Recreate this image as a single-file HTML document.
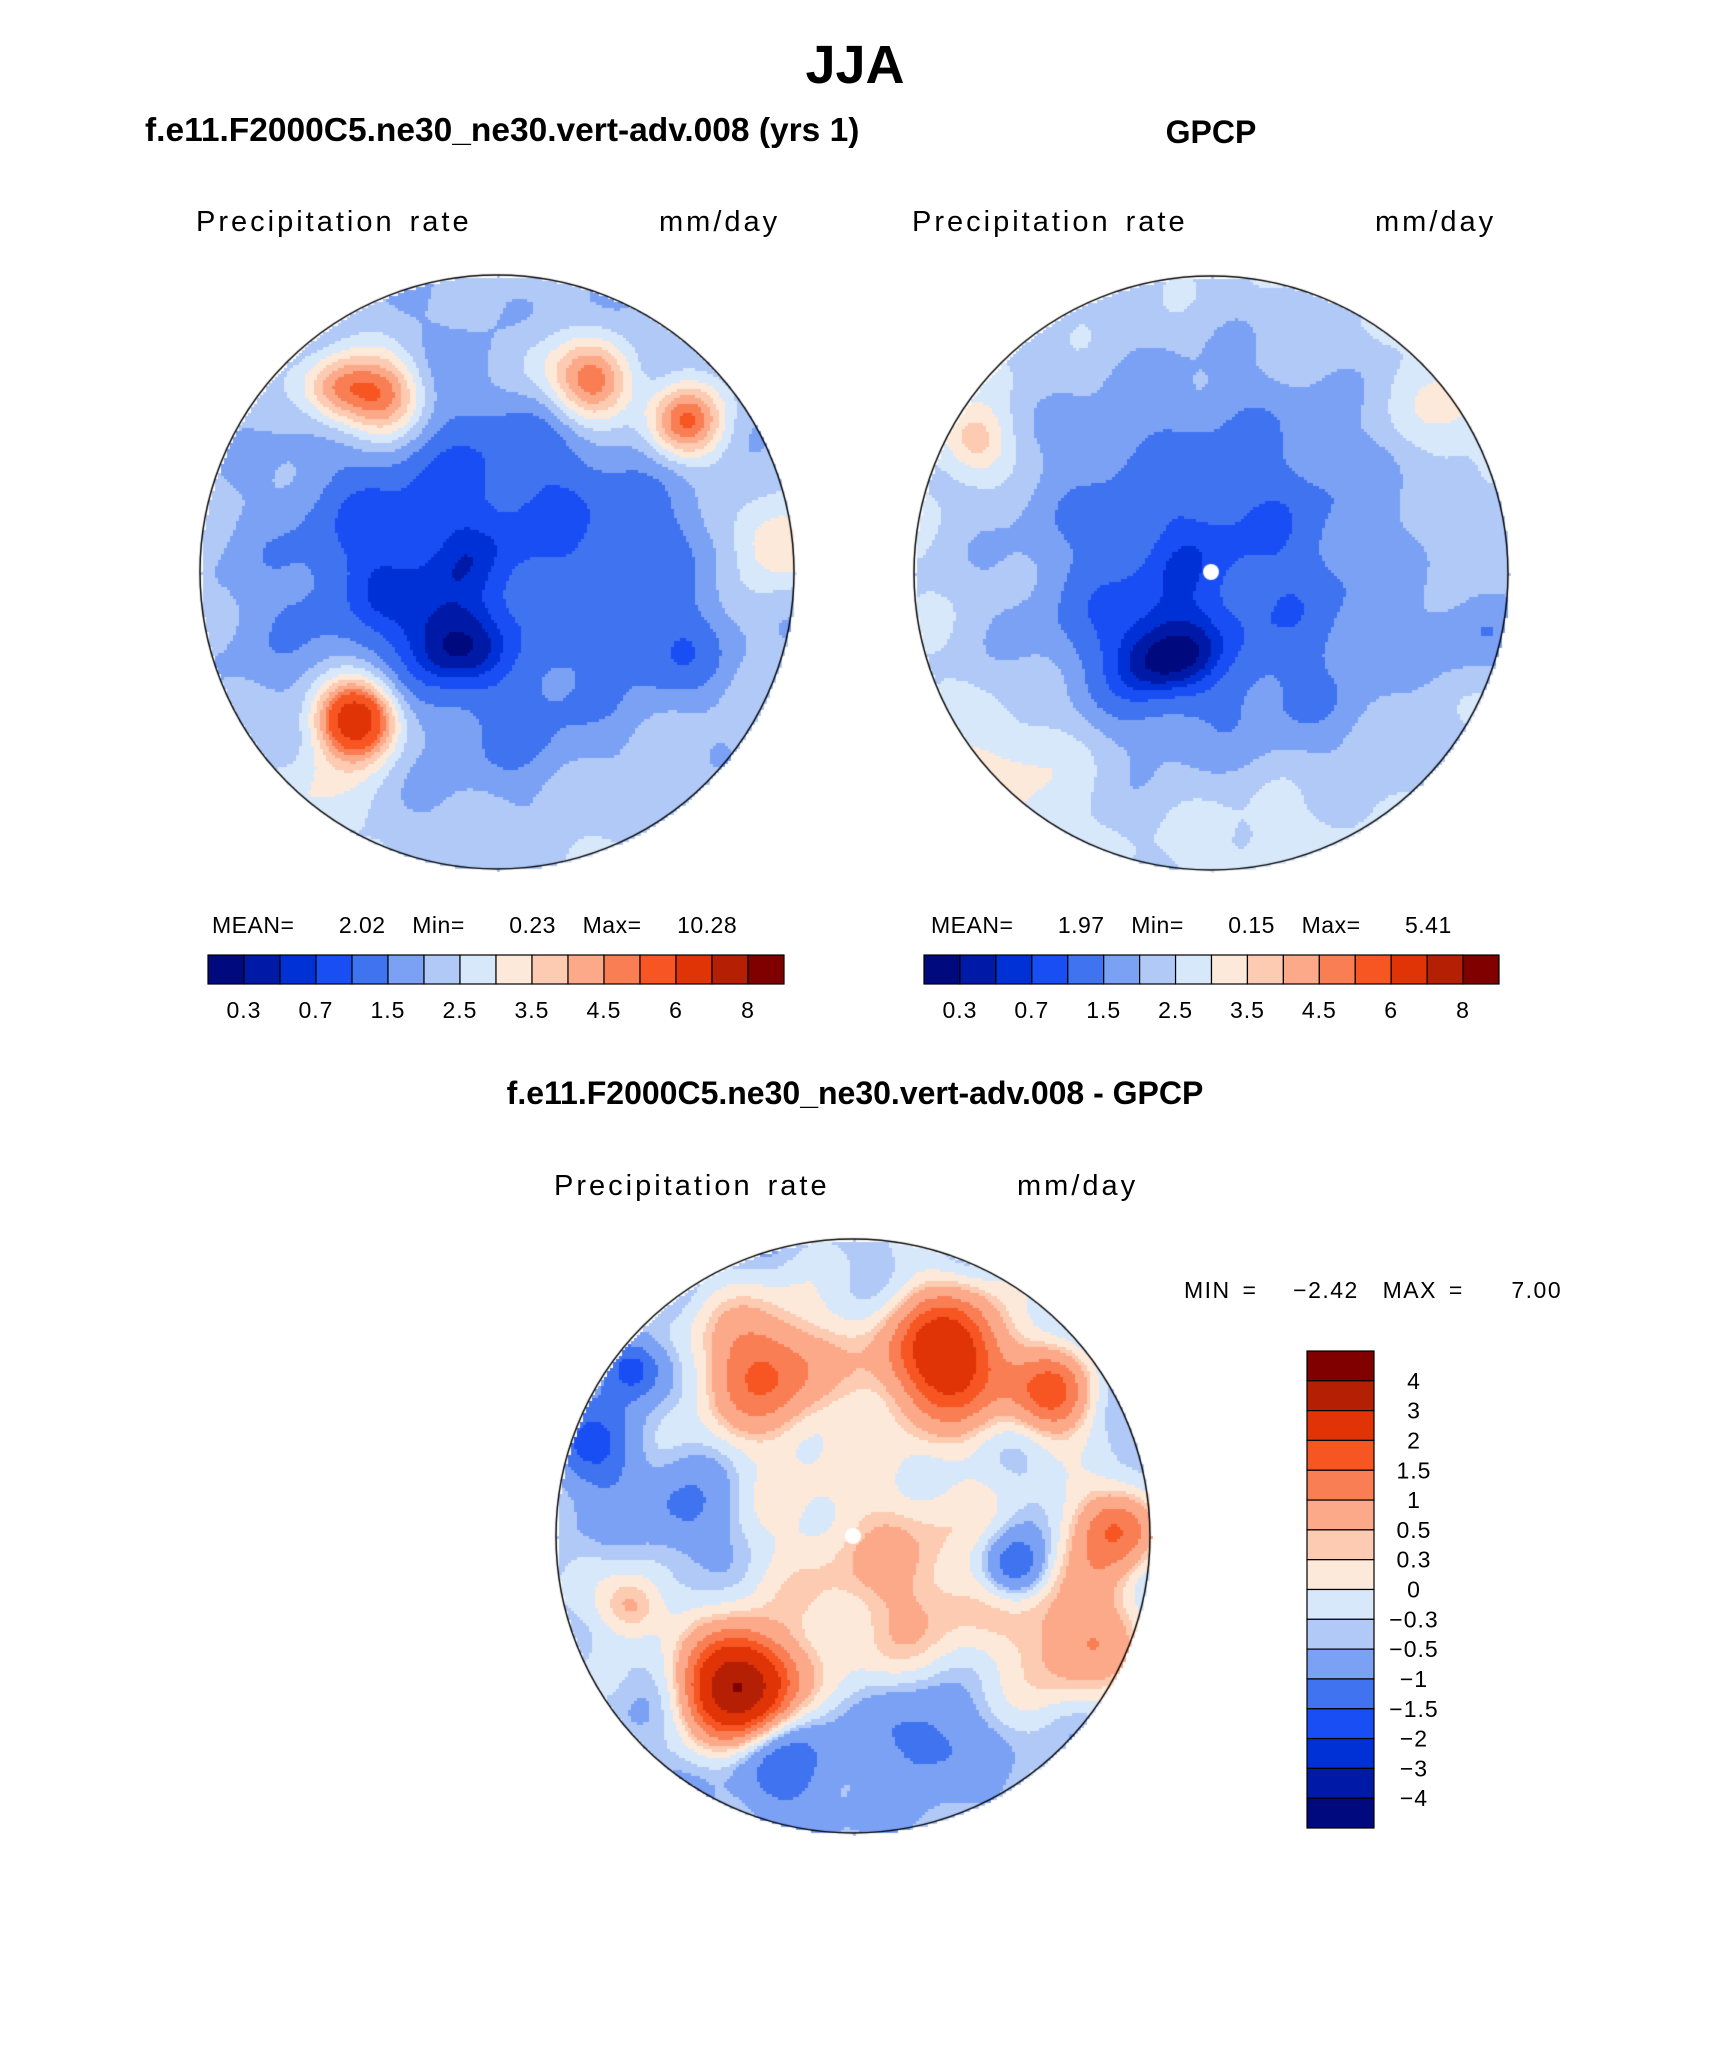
<!DOCTYPE html>
<html><head><meta charset="utf-8"><style>
body{margin:0;background:#fff;width:1710px;height:2061px;position:relative;overflow:hidden;font-family:"Liberation Sans",sans-serif}
.t{position:absolute;white-space:nowrap;color:#000}
.b{font-weight:bold}
.lbl{font-size:29px;letter-spacing:3px;word-spacing:4px}
.sm{font-size:23px}
canvas{position:absolute}
</style></head><body>
<div class="t b" style="left:0;width:1710px;text-align:center;top:34px;font-size:54px">JJA</div>
<div class="t b" style="left:145px;top:111px;font-size:33px;transform:scaleX(1.015);transform-origin:left">f.e11.F2000C5.ne30_ne30.vert-adv.008 (yrs 1)</div>
<div class="t b" style="left:1111px;width:200px;text-align:center;top:114px;font-size:32px">GPCP</div>
<div class="t lbl" style="left:196px;top:206px">Precipitation rate</div>
<div class="t lbl" style="left:659px;top:206px">mm/day</div>
<div class="t lbl" style="left:912px;top:206px">Precipitation rate</div>
<div class="t lbl" style="left:1375px;top:206px">mm/day</div>
<div class="t b" style="left:0;width:1710px;text-align:center;top:1075px;font-size:32px">f.e11.F2000C5.ne30_ne30.vert-adv.008 - GPCP</div>
<div class="t lbl" style="left:554px;top:1170px">Precipitation rate</div>
<div class="t lbl" style="left:1017px;top:1170px">mm/day</div>

<div class="t sm" style="left:212px;top:912px;letter-spacing:0.5px;word-spacing:2px">MEAN=&nbsp;&nbsp;&nbsp;&nbsp;&nbsp;2.02&nbsp;&nbsp;&nbsp;Min=&nbsp;&nbsp;&nbsp;&nbsp;&nbsp;0.23&nbsp;&nbsp;&nbsp;Max=&nbsp;&nbsp;&nbsp;&nbsp;10.28</div>
<div class="t sm" style="left:931px;top:912px;letter-spacing:0.5px;word-spacing:2px">MEAN=&nbsp;&nbsp;&nbsp;&nbsp;&nbsp;1.97&nbsp;&nbsp;&nbsp;Min=&nbsp;&nbsp;&nbsp;&nbsp;&nbsp;0.15&nbsp;&nbsp;&nbsp;Max=&nbsp;&nbsp;&nbsp;&nbsp;&nbsp;5.41</div>
<div class="t sm" style="left:1184px;top:1277px;letter-spacing:1.5px;word-spacing:4px">MIN&nbsp;=&nbsp;&nbsp;&nbsp;−2.42&nbsp;&nbsp;MAX&nbsp;=&nbsp;&nbsp;&nbsp;&nbsp;7.00</div>

<canvas id="c1" width="600" height="600" style="left:197px;top:272px"></canvas>
<canvas id="c2" width="600" height="600" style="left:911px;top:273px"></canvas>
<canvas id="c3" width="600" height="600" style="left:553px;top:1236px"></canvas>
<svg id="ov" width="1710" height="2061" style="position:absolute;left:0;top:0"></svg>
<script>
const pal=["#000a7e","#001aa8","#0031d6","#1a4ef5","#3f73f0","#7ba1f5","#b0c9f7","#d8e8fb","#fde9d9","#fdcbb1","#fca98a","#f97e53","#f75522","#e03306","#b52004","#800000"];
const precipLevels=[0.3,0.5,0.7,1,1.5,2,2.5,3,3.5,4,4.5,5,6,7,8];
const precipTickLabels=["0.3","0.7","1.5","2.5","3.5","4.5","6","8"];
const diffLevels=[-4,-3,-2,-1.5,-1,-0.5,-0.3,0,0.3,0.5,1,1.5,2,3,4];
const diffTickLabels=["4","3","2","1.5","1","0.5","0.3","0","−0.3","−0.5","−1","−1.5","−2","−3","−4"];
// blobs: normalized x,y (-1..1), sigma, amplitude
const modelBase=2.3;
const modelX=[0,-0.19,-0.45,-0.39,0.32,0.63,0.94,-0.48,0.1,0.6,0.5,-0.8,0.3,-0.6,-0.55,0.1];
const modelY=[-0.15,0.24,-0.05,-0.6,-0.64,-0.51,-0.11,0.49,0.55,0.25,-0.1,0.2,0.9,0.75,-0.62,-0.72];
const modelS=[0.45,0.12,0.2,0.1,0.1,0.09,0.1,0.09,0.2,0.12,0.1,0.2,0.2,0.12,0.08,0.1];
const modelA=[-1.45,-1.1,-0.6,3,3,3,1.5,5,-0.5,-0.9,-0.5,-0.3,0.3,0.8,2,0.8];
const gpcpBase=2.7;
const gpcpX=[0,-0.18,-0.3,0.8,-0.72,0.9,0.3,-0.8,0.2,-0.5];
const gpcpY=[-0.05,0.28,0.3,-0.56,0.68,0.2,0.5,-0.45,0.85,0.55];
const gpcpS=[0.5,0.12,0.2,0.12,0.15,0.12,0.2,0.08,0.2,0.15];
const gpcpA=[-1.8,-0.9,-0.4,0.8,0.7,-0.8,-0.3,1.5,0.4,0.3];
const diffBase=-0.45;
const diffX=[-0.3,0.31,0.67,0.89,0.76,-0.39,0.05,-0.75,0.54,-0.88,-0.22,0.23,-0.75,-0.57,0.3,0.75];
const diffY=[-0.57,-0.61,-0.48,-0.04,0.36,0.5,0.1,0.23,0.1,-0.3,0.76,0.67,-0.57,-0.08,0.2,0.15];
const diffS=[0.16,0.15,0.1,0.1,0.15,0.12,0.3,0.08,0.08,0.1,0.12,0.12,0.07,0.1,0.2,0.15];
const diffA=[2,3.2,2,1.8,1.2,4.5,0.8,1.2,-1.5,-1.2,-1,-1,-1.5,-0.8,0.4,0.5];

function field(x,y,base,X,Y,S,A){let v=base;for(let i=0;i<X.length;i++){const dx=x-X[i],dy=y-Y[i];v+=A[i]*Math.exp(-(dx*dx+dy*dy)/(2*S[i]*S[i]));}
 v+=0.25*Math.sin(x*13+y*7)*Math.cos(y*11-x*5);return v;}
function idx(v,lv){let k=0;while(k<lv.length&&v>=lv[k])k++;return k;}
function drawMap(id,base,X,Y,S,A,lv,dot){const c=document.getElementById(id),g=c.getContext('2d');const R=297,cx=300,cy=300,st=3;
 for(let py=0;py<600;py+=st)for(let px=0;px<600;px+=st){const dx=px-cx,dy=py-cy;if(dx*dx+dy*dy>R*R)continue;
  g.fillStyle=pal[idx(field(dx/R,dy/R,base,X,Y,S,A),lv)];g.fillRect(px,py,st,st);}
 g.strokeStyle="#000";g.lineWidth=1.5;g.beginPath();g.arc(cx,cy,R,0,7);g.stroke();
 if(dot){g.fillStyle="#fff";g.beginPath();g.arc(cx+dot[0],cy+dot[1],8,0,7);g.fill();}}
drawMap('c1',modelBase,modelX,modelY,modelS,modelA,precipLevels,null);
drawMap('c2',gpcpBase,gpcpX,gpcpY,gpcpS,gpcpA,precipLevels,[0,-1]);
drawMap('c3',diffBase,diffX,diffY,diffS,diffA,diffLevels,[0,0]);

const NS="http://www.w3.org/2000/svg",ov=document.getElementById('ov');
function mk(t,a){const e=document.createElementNS(NS,t);for(const k in a)e.setAttribute(k,a[k]);ov.appendChild(e);return e;}
function hbar(x0,x1,y0,y1,nm){const w=(x1-x0)/16;
 for(let i=0;i<16;i++){const r=mk('rect',{x:x0+i*w,y:y0,width:w,height:y1-y0,fill:pal[i],stroke:'#000','stroke-width':1.2});
  
  }
 precipTickLabels.forEach((s,j)=>{const t=mk('text',{x:x0+(2*j+1)*w,y:y1+34,'text-anchor':'middle','font-size':23,'letter-spacing':1,'font-family':'Liberation Sans'});t.textContent=s;
  
  });}
hbar(208,784,955,984,'model-colorbar');
hbar(924,1499,955,984,'gpcp-colorbar');
(function(){const x0=1307,x1=1374,y0=1351,y1=1828,h=(y1-y0)/16;
 for(let i=0;i<16;i++){const r=mk('rect',{x:x0,y:y0+i*h,width:x1-x0,height:h,fill:pal[15-i],stroke:'#000','stroke-width':1.2});
  
  }
 diffTickLabels.forEach((s,j)=>{const t=mk('text',{x:1414,y:y0+(j+1)*h+8,'text-anchor':'middle','font-size':23,'letter-spacing':1,'font-family':'Liberation Sans'});t.textContent=s;
  
  });})();
</script>
</body></html>
